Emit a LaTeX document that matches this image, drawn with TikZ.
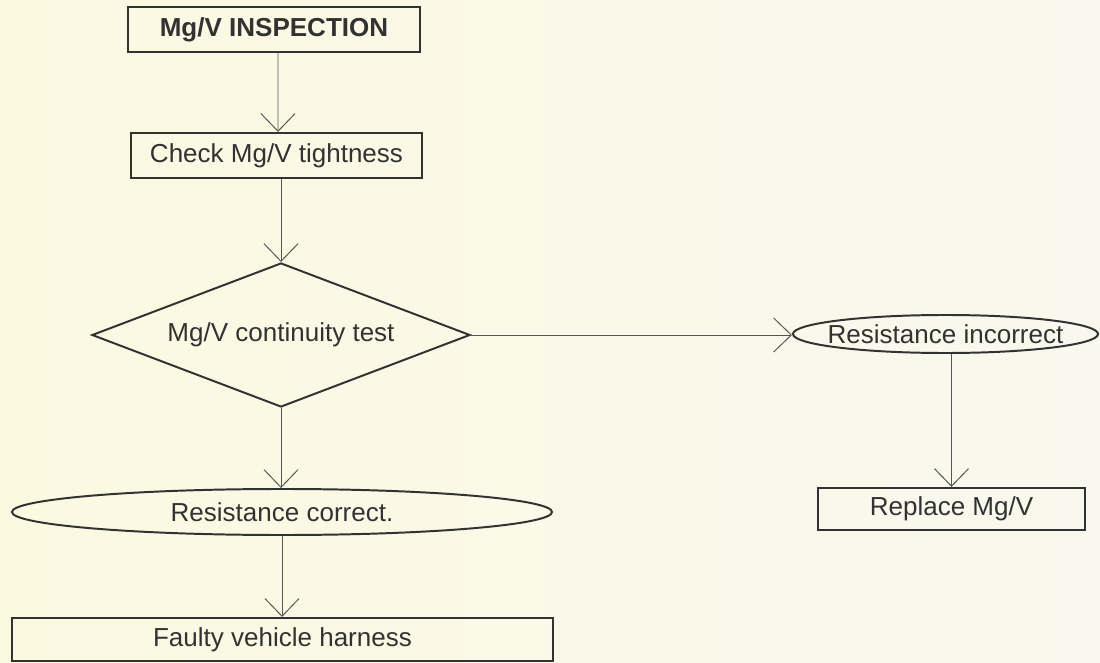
\documentclass[tikz,border=0pt]{standalone}
\usepackage{fontspec}
\setmainfont{Liberation Sans}
\usetikzlibrary{shapes.geometric,arrows.meta,calc}
\definecolor{paperL}{RGB}{252,249,225}
\definecolor{paperR}{RGB}{249,248,238}
\definecolor{ink}{RGB}{50,50,50}
\definecolor{lineink}{RGB}{85,85,85}
\begin{document}
\begin{tikzpicture}[x=0.025cm,y=-0.025cm,
  every node/.style={font=\fontsize{18.5}{22}\selectfont, text=ink},
  boxnode/.style={draw=ink, line width=1.5pt, rectangle, inner sep=0pt},
  ellnode/.style={draw=ink, line width=1.4pt, ellipse, inner sep=0pt},
  dianode/.style={draw=ink, line width=1.4pt, diamond, aspect=2.6, inner sep=0pt},
  conn/.style={draw=lineink, line width=0.7pt, -{Straight Barb[length=0.44cm,width=0.85cm]}}
]
\shade[left color=paperL, right color=paperR] (0,0) rectangle (1100,663);
\useasboundingbox (0,0) rectangle (1100,663);

\node[boxnode, minimum width=7.3cm, minimum height=1.125cm] (insp) at (274,29.5) {\bfseries Mg/V INSPECTION};
\node[boxnode, minimum width=7.275cm, minimum height=1.125cm] (check) at (276.5,155.5) {Check Mg/V tightness};
\node[dianode, minimum width=9.45cm, minimum height=3.6cm] (dia) at (281,335) {Mg/V continuity test};
\node[ellnode, minimum width=7.625cm, minimum height=0.95cm, label=center:{Resistance incorrect}] (ri) at (945.5,334) {};
\node[boxnode, minimum width=6.675cm, minimum height=1.05cm] (rep) at (951.5,509) {Replace Mg/V};
\node[ellnode, minimum width=13.5cm, minimum height=1.15cm, label=center:{Resistance correct.}] (rc) at (282,512) {};
\node[boxnode, minimum width=13.525cm, minimum height=1.075cm] (faulty) at (282.5,639.5) {Faulty vehicle harness};

\draw[conn] ($(insp.south)+(4,0)$) -- ($(check.north)+(1.5,0)$);
\draw[conn] (check.south -| dia.north) -- (dia.north);
\draw[conn] (dia.south) -- (dia.south |- rc.north);
\draw[conn] (rc.south) -- (rc.south |- faulty.north);
\draw[conn] (dia.east) -- (dia.east -| ri.west);
\draw[conn] (ri.south -| rep.north) -- (rep.north);
\end{tikzpicture}
\end{document}
